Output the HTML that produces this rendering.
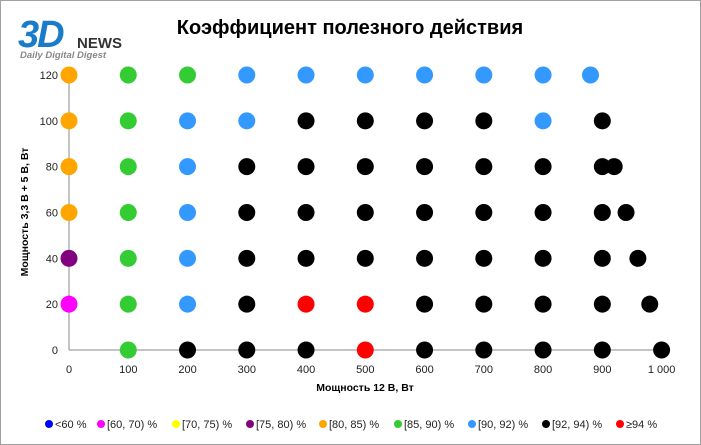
<!DOCTYPE html>
<html><head><meta charset="utf-8"><style>
body{margin:0;background:#fff;font-family:"Liberation Sans","DejaVu Sans",sans-serif}
#wrap{position:relative;width:701px;height:445px;overflow:hidden}
</style></head><body>
<div id="wrap">
<svg id="svg" width="701" height="445" xmlns="http://www.w3.org/2000/svg">
<rect x="0.5" y="0.5" width="700" height="444" fill="#fff" stroke="#a0a0a0"/>
<g>
<text x="18" y="47" font-size="38" font-weight="bold" font-style="italic" fill="#1a7cc9" letter-spacing="-2">3D</text>
<text x="77" y="48" font-size="15" font-weight="bold" fill="#333">NEWS</text>
<text x="20" y="58" font-size="9.5" font-style="italic" font-weight="bold" fill="#888">Daily Digital Digest</text>
</g>
<text x="350" y="34" font-size="20" font-weight="bold" text-anchor="middle" fill="#000">Коэффициент полезного действия</text>
<g id="axes"></g>
<g id="pts"></g>
<g id="legend"></g>
</svg>
</div>
<script>
const xTicks=[0,100,200,300,400,500,600,700,800,900,1000];
const xTickLabels=["0","100","200","300","400","500","600","700","800","900","1 000"];
const yTicks=[0,20,40,60,80,100,120];
const categories=["<60 %","[60, 70) %","[70, 75) %","[75, 80) %","[80, 85) %","[85, 90) %","[90, 92) %","[92, 94) %","≥94 %"];
const catColors=["#0000ff","#ff00ff","#ffff00","#800080","#ffa500","#33cc33","#3399ff","#000000","#ff0000"];
// points: [x power 12V, y power 3.3+5V, category index]
const px=[0,100,200,300,400,500,600,700,800,880,
0,100,200,300,400,500,600,700,800,900,
0,100,200,300,400,500,600,700,800,900,920,
0,100,200,300,400,500,600,700,800,900,940,
0,100,200,300,400,500,600,700,800,900,960,
0,100,200,300,400,500,600,700,800,900,980,
100,200,300,400,500,600,700,800,900,1000];
const py=[120,120,120,120,120,120,120,120,120,120,
100,100,100,100,100,100,100,100,100,100,
80,80,80,80,80,80,80,80,80,80,80,
60,60,60,60,60,60,60,60,60,60,60,
40,40,40,40,40,40,40,40,40,40,40,
20,20,20,20,20,20,20,20,20,20,20,
0,0,0,0,0,0,0,0,0,0];
const pc=[4,5,5,6,6,6,6,6,6,6,
4,5,6,6,7,7,7,7,6,7,
4,5,6,7,7,7,7,7,7,7,7,
4,5,6,7,7,7,7,7,7,7,7,
3,5,6,7,7,7,7,7,7,7,7,
1,5,6,7,8,8,7,7,7,7,7,
5,7,7,7,8,7,7,7,7,7];
const X=v=>69+v*0.5926, Y=v=>350-v*2.2917;
const NS="http://www.w3.org/2000/svg";
function mk(t,a,p){const e=document.createElementNS(NS,t);for(const k in a)e.setAttribute(k,a[k]);p.appendChild(e);return e;}
const ax=document.getElementById('axes');
let l=mk('line',{x1:X(0),y1:Y(0),x2:X(1000),y2:Y(0),stroke:'#888','stroke-width':1},ax);


l=mk('line',{x1:X(0),y1:Y(0),x2:X(0),y2:Y(120),stroke:'#888','stroke-width':1},ax);


xTicks.forEach((v,i)=>{const t=mk('text',{x:X(v),y:373,'font-size':11,'text-anchor':'middle',fill:'#222'},ax);t.textContent=xTickLabels[i];

});
yTicks.forEach(v=>{const t=mk('text',{x:58,y:Y(v)+4,'font-size':11,'text-anchor':'end',fill:'#222'},ax);t.textContent=v;

});
let t=mk('text',{x:365,y:391,'font-size':10.5,'font-weight':'bold','text-anchor':'middle'},ax);t.textContent='Мощность  12 В, Вт';


t=mk('text',{x:0,y:0,'font-size':10.5,'font-weight':'bold','text-anchor':'middle',transform:'translate(28,212) rotate(-90)'},ax);t.textContent='Мощность  3,3 В + 5 В, Вт';


const pg=document.getElementById('pts');
px.forEach((v,i)=>{const c=mk('circle',{cx:X(v),cy:Y(py[i]),r:8.5,fill:catColors[pc[i]]},pg);

});
const lg=document.getElementById('legend');
const lx=[49,101,176,250,323,398,472,546,620];
categories.forEach((c,i)=>{const g=mk('g',{},lg);


mk('circle',{cx:lx[i],cy:424,r:4,fill:catColors[i]},g);
const tt=mk('text',{x:lx[i]+6,y:428,'font-size':11,fill:'#222'},g);tt.textContent=c;});
</script>
</body></html>
